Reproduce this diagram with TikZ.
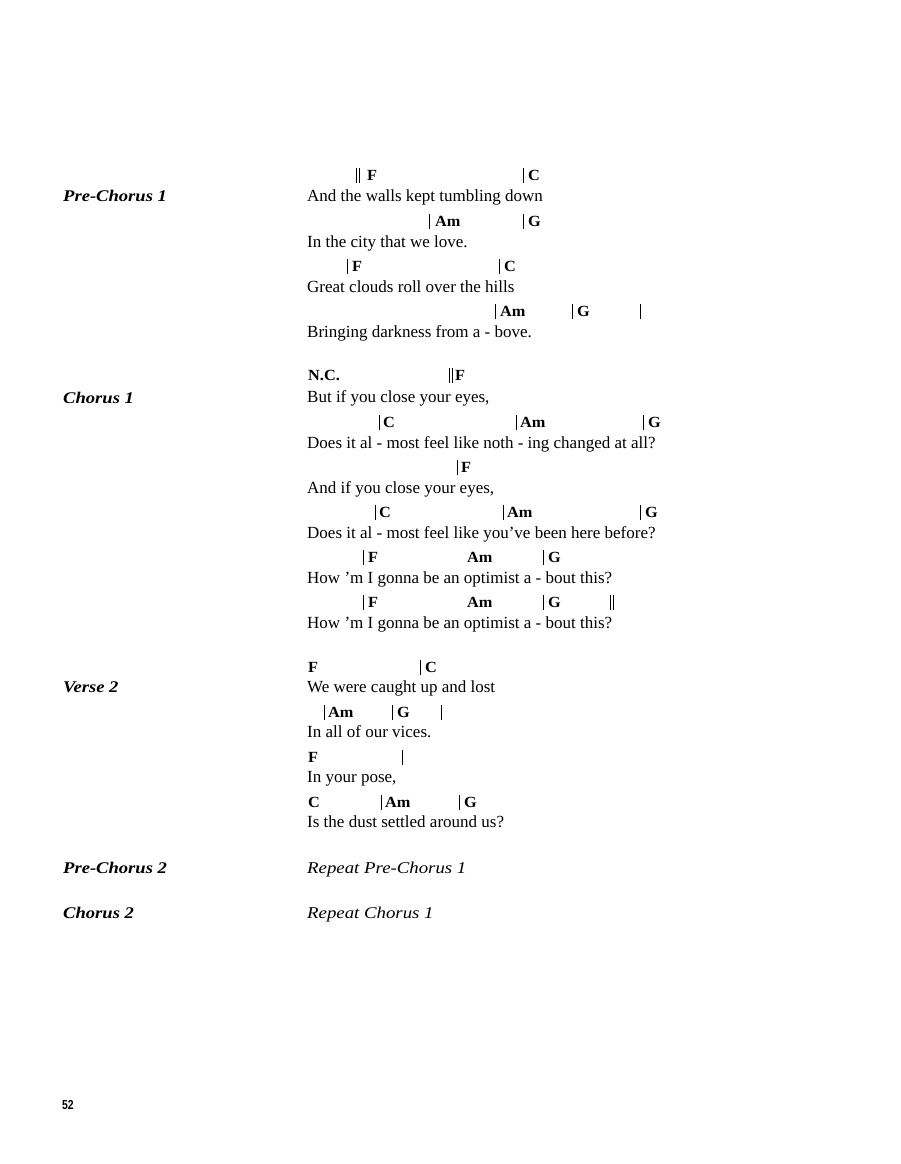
\documentclass[tikz,border=0pt]{standalone}
\usepackage{fontspec}
\setmainfont{Liberation Serif}
\newfontfamily\chordfont[FakeStretch=1.05]{Liberation Serif}
\newfontfamily\labfont[FakeStretch=1.14]{Liberation Serif}
\newfontfamily\repfont[FakeStretch=1.14]{Liberation Serif}
\newfontfamily\pgfont[FakeStretch=0.8]{Liberation Sans}
\tikzset{
  lyr/.style={anchor=base west,inner sep=0pt,font=\fontsize{17}{20}\selectfont},
  chd/.style={anchor=base west,inner sep=0pt,font=\chordfont\bfseries\fontsize{15.5}{18}\selectfont},
  barln/.style={line width=0.6pt,black},
  lab/.style={anchor=base west,inner sep=0pt,font=\labfont\bfseries\itshape\fontsize{16.3}{19}\selectfont},
  rep/.style={anchor=base west,inner sep=0pt,font=\repfont\itshape\fontsize{16.5}{19}\selectfont},
  pgn/.style={anchor=base west,inner sep=0pt,font=\pgfont\bfseries\fontsize{13}{15}\selectfont}
}
\newcommand\Chd[3]{\node[chd] at (#1,#2) {#3};}
\newcommand\Bar[2]{\draw[barln] (#1,#2+2.5) -- (#1,#2-12);}
\newcommand\DBar[2]{\draw[barln] (#1-1.5,#2+2.5) -- (#1-1.5,#2-12) (#1+1.5,#2+2.5) -- (#1+1.5,#2-12);}
\newcommand\Lyr[2]{\node[lyr] at (307,#1) {#2};}
\begin{document}
\begin{tikzpicture}[x=1pt,y=-1pt]
\useasboundingbox[fill=white] (0,0) rectangle (900,1164);
% ---------- Pre-Chorus 1
\node[lab] (lpc1) at (63,201) {Pre-Chorus 1};
\DBar{358}{180}\Chd{367}{180}{F}\Bar{523}{180}\Chd{528}{180}{C}
\Lyr{201}{And the walls kept tumbling down}
\Bar{429}{226}\Chd{435}{226}{Am}\Bar{523}{226}\Chd{528}{226}{G}
\Lyr{247}{In the city that we love.}
\Bar{347}{271}\Chd{352}{271}{F}\Bar{499}{271}\Chd{504}{271}{C}
\Lyr{292}{Great clouds roll over the hills}
\Bar{495}{316}\Chd{500}{316}{Am}\Bar{572}{316}\Chd{577}{316}{G}\Bar{640}{316}
\Lyr{337}{Bringing darkness from a - bove.}
% ---------- Chorus 1
\node[lab] (lc1) at (63,403) {Chorus 1};
\Chd{308}{380}{N.C.}\DBar{451}{380}\Chd{455}{380}{F}
\Lyr{402}{But if you close your eyes,}
\Bar{379}{427}\Chd{383}{427}{C}\Bar{516}{427}\Chd{520}{427}{Am}\Bar{643}{427}\Chd{648}{427}{G}
\Lyr{448}{Does it al - most feel like noth - ing changed at all?}
\Bar{457}{472}\Chd{461}{472}{F}
\Lyr{493}{And if you close your eyes,}
\Bar{375}{517}\Chd{379}{517}{C}\Bar{503}{517}\Chd{507}{517}{Am}\Bar{640}{517}\Chd{645}{517}{G}
\Lyr{538}{Does it al - most feel like you’ve been here before?}
\Bar{363}{562}\Chd{368}{562}{F}\Chd{467}{562}{Am}\Bar{543}{562}\Chd{548}{562}{G}
\Lyr{583}{How ’m I gonna be an optimist a - bout this?}
\Bar{363}{607}\Chd{368}{607}{F}\Chd{467}{607}{Am}\Bar{543}{607}\Chd{548}{607}{G}\DBar{612}{607}
\Lyr{628}{How ’m I gonna be an optimist a - bout this?}
% ---------- Verse 2
\node[lab] (lv2) at (63,692) {Verse 2};
\Chd{308}{672}{F}\Bar{420}{672}\Chd{425}{672}{C}
\Lyr{692}{We were caught up and lost}
\Bar{324}{717}\Chd{328}{717}{Am}\Bar{392}{717}\Chd{397}{717}{G}\Bar{441}{717}
\Lyr{737}{In all of our vices.}
\Chd{308}{762}{F}\Bar{402}{762}
\Lyr{782}{In your pose,}
\Chd{308}{807}{C}\Bar{381}{807}\Chd{385}{807}{Am}\Bar{459}{807}\Chd{464}{807}{G}
\Lyr{827}{Is the dust settled around us?}
% ---------- Pre-Chorus 2 / Chorus 2
\node[lab] (lpc2) at (63,873) {Pre-Chorus 2};
\node[rep] (rpc) at (307,873) {Repeat Pre-Chorus 1};
\node[lab] (lc2) at (63,918) {Chorus 2};
\node[rep] (rc) at (307,918) {Repeat Chorus 1};
% ---------- page number
\node[pgn] (pg) at (62,1109) {52};
\end{tikzpicture}
\end{document}
